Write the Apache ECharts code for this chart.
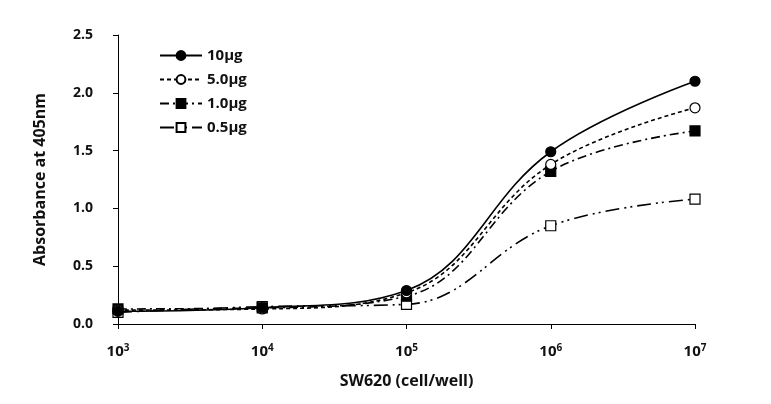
<!DOCTYPE html>
<html><head><meta charset="utf-8">
<script src="https://cdn.jsdelivr.net/npm/echarts@6/dist/echarts.min.js"></script>
<style>html,body{margin:0;padding:0;background:#fff}#c{width:771px;height:404px}</style>
</head><body><div id="c"></div>
<script>
const cells = [1e3, 1e4, 1e5, 1e6, 1e7];
const names = ['10μg', '5.0μg', '1.0μg', '0.5μg'];
const v10 = [0.11, 0.14, 0.29, 1.49, 2.10];
const v5 = [0.12, 0.13, 0.27, 1.38, 1.87];
const v1 = [0.13, 0.14, 0.24, 1.32, 1.67];
const v05 = [0.10, 0.15, 0.17, 0.85, 1.08];
const yTicks = [0, 0.5, 1.0, 1.5, 2.0, 2.5];

const font = '"Open Sans", "Noto Sans", sans-serif';
function pairs(v){ return cells.map((c,i)=>[c, v[i]]); }
const styles = [
  {sym:'circle', fill:'#000', dash:'solid'},
  {sym:'circle', fill:'#fff', dash:[4,3]},
  {sym:'rect', fill:'#000', dash:[9,4,2,4]},
  {sym:'rect', fill:'#fff', dash:[14,5,2,4,2,5]}
];
const vals = [v10, v5, v1, v05];
const series = names.map((n,i)=>({
  name:n, type:'line', smooth:0.4, data:pairs(vals[i]),
  symbol: styles[i].sym, symbolSize: 10,
  lineStyle:{color:'#000', width:1.6, type:styles[i].dash},
  itemStyle:{color:styles[i].fill, borderColor:'#000', borderWidth:1.2},
  z: 10 - i
}));
const chart = echarts.init(document.getElementById('c'), null, {renderer:'canvas'});
chart.setOption({
  animation:false,
  backgroundColor:'#fff',
  grid:{left:118, right:76, top:35, bottom:80},
  legend:{
    orient:'vertical', left:154, top:43, itemGap:9, itemWidth:42, itemHeight:11,
    data:names,
    textStyle:{fontFamily:font, fontWeight:'bold', fontSize:15, color:'#111'}
  },
  xAxis:{
    type:'log', logBase:10, min:1e3, max:1e7,
    name:'SW620 (cell/well)', nameLocation:'middle', nameGap:49,
    nameTextStyle:{fontFamily:font, fontWeight:'bold', fontSize:16, color:'#111'},
    axisLine:{lineStyle:{color:'#000', width:1}},
    axisTick:{show:true, length:5, lineStyle:{color:'#000'}},
    splitLine:{show:false},
    axisLabel:{
      margin:19,
      formatter:function(v){ return '{b|10}{s|' + Math.round(Math.log10(v)) + '}'; },
      rich:{
        b:{fontFamily:font, fontWeight:'bold', fontSize:15, color:'#111'},
        s:{fontFamily:font, fontWeight:'bold', fontSize:10, color:'#111', verticalAlign:'top', padding:[0,0,8,0]}
      }
    }
  },
  yAxis:{
    type:'value', min:0, max:2.5, interval:0.5,
    name:'Absorbance at 405nm', nameLocation:'middle', nameGap:70,
    nameTextStyle:{fontFamily:font, fontWeight:'bold', fontSize:16, color:'#111'},
    axisLine:{show:true, lineStyle:{color:'#000', width:1}},
    axisTick:{show:true, length:5, lineStyle:{color:'#000'}},
    splitLine:{show:false},
    axisLabel:{margin:25, fontFamily:font, fontWeight:'bold', fontSize:14, color:'#111',
      formatter:function(v){ return v.toFixed(1); }}
  },
  series:series
});
</script>
</body></html>
